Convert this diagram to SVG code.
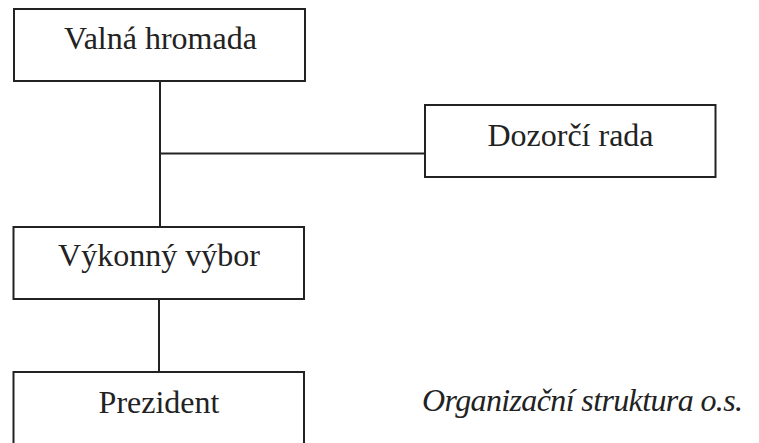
<svg xmlns="http://www.w3.org/2000/svg" width="759" height="443" viewBox="0 0 759 443">
<style>
.box{fill:#fff;stroke:#222;stroke-width:2}
.lbl{font-family:"Liberation Serif","Times New Roman",serif;font-size:32px;fill:#222;text-anchor:middle}
.cap{font-family:"Liberation Serif","Times New Roman",serif;font-size:32px;font-style:italic;fill:#222}
.conn{stroke:#222;stroke-width:2;fill:none}
</style>
<rect width="759" height="443" fill="#fff"/>
<g id="connectors">
<line class="conn" x1="160" y1="81" x2="160" y2="227"/>
<line class="conn" x1="160" y1="153.5" x2="425" y2="153.5"/>
<line class="conn" x1="159" y1="299" x2="159" y2="372"/>
</g>
<g id="valna-hromada">
<rect class="box" x="14" y="9" width="291" height="72"/>
<text class="lbl" x="160.5" y="48.5">Valná hromada</text>
</g>
<g id="dozorci-rada">
<rect class="box" x="425" y="105" width="290.5" height="72"/>
<text class="lbl" x="570.5" y="146">Dozorčí rada</text>
</g>
<g id="vykonny-vybor">
<rect class="box" x="13.5" y="227" width="290.5" height="72"/>
<text class="lbl" x="159" y="266">Výkonný výbor</text>
</g>
<g id="prezident">
<rect class="box" x="13.5" y="372" width="290.5" height="80"/>
<text class="lbl" x="159" y="412.5">Prezident</text>
</g>
<text class="cap" x="422" y="411" textLength="321">Organizační struktura o.s.</text>
</svg>
